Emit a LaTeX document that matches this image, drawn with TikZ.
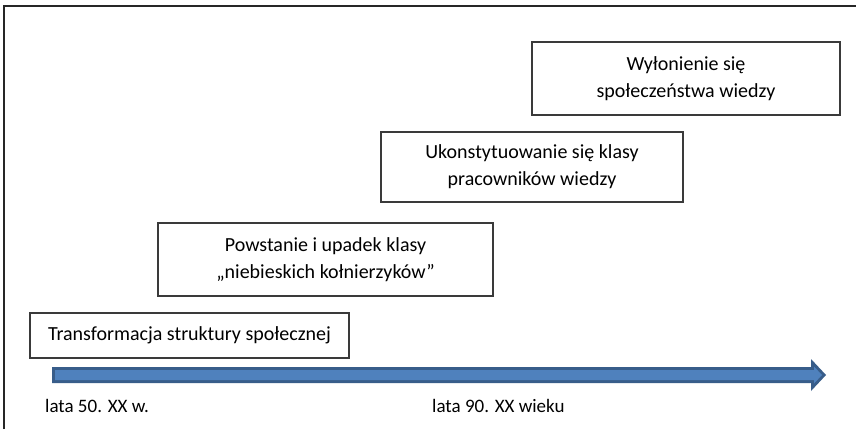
\documentclass[tikz,border=0pt]{standalone}
\usepackage{fontspec}
\setmainfont{Carlito}
\usetikzlibrary{shapes.arrows}
\definecolor{arrowfill}{HTML}{4F81BD}
\definecolor{arrowline}{HTML}{385D8A}
\definecolor{boxline}{HTML}{3A3A3A}
\begin{document}
\begin{tikzpicture}[x=1pt,y=-1pt,
  stage/.style={draw=boxline,line width=1.2pt,rectangle,inner sep=0pt,
    font=\fontsize{20}{27}\selectfont,align=center},
  period/.style={inner sep=0pt,anchor=west,font=\fontsize{19}{22}\selectfont}]
\useasboundingbox (0,0) rectangle (856,429);
% frame lines along the top and left
\draw[line width=1.6pt,black!85] (4,429) -- (4,6) -- (856,6);
% stages
\node[stage,minimum width=319pt,minimum height=45pt] (s1) at (189.5,335.5) {Transformacja struktury społecznej};
\node[stage,minimum width=335pt,minimum height=73pt] (s2) at (325.5,259.5) {Powstanie i upadek klasy\\„niebieskich kołnierzyków”};
\node[stage,minimum width=302pt,minimum height=70pt] (s3) at (532,167) {Ukonstytuowanie się klasy\\pracowników wiedzy};
\node[stage,minimum width=308pt,minimum height=73pt] (s4) at (686,78.5) {Wyłonienie się\\społeczeństwa wiedzy};
% time axis
\coordinate (tstart) at (52,375);
\coordinate (tend) at (826,375);
\fill[arrowline] (52,367) -- (811,367) -- (811,359) -- (826,375) -- (811,391) -- (811,383) -- (52,383) -- cycle;
\fill[arrowfill] (55,370) -- (814,370) -- (814,366.5) -- (822,375) -- (814,383.5) -- (814,380) -- (55,380) -- cycle;
% period labels
\node[period] (p1) at (45,406) {lata 50. XX w.};
\node[period] (p2) at (432,406) {lata 90. XX wieku};
\end{tikzpicture}
\end{document}
